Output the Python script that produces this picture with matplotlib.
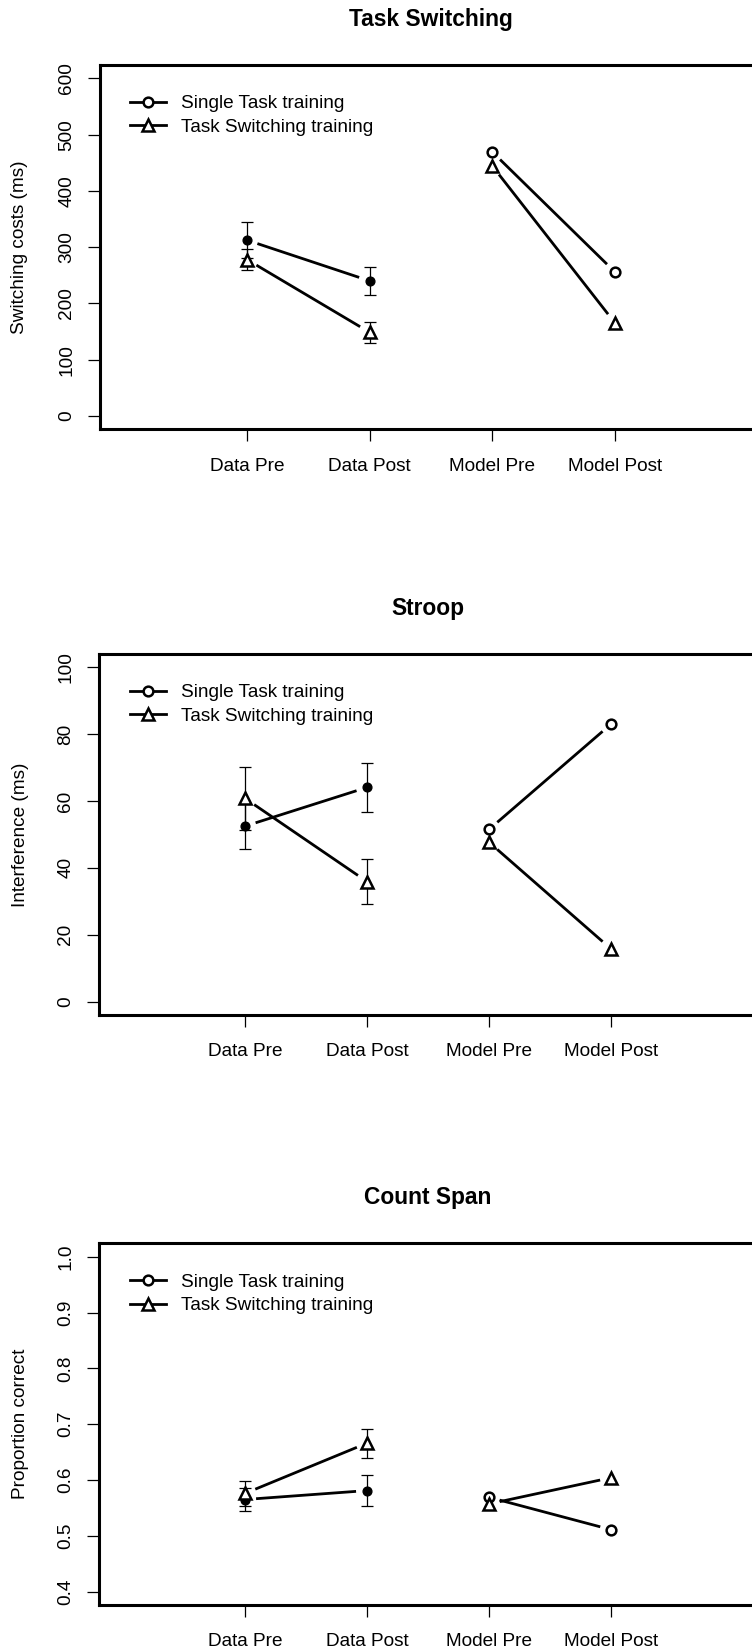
import numpy as np
import matplotlib
matplotlib.use("Agg")
import matplotlib.pyplot as plt
from matplotlib.lines import Line2D

plt.rcParams['font.family'] = ['Liberation Sans', 'DejaVu Sans']

# conditions on the x axis
conditions = ['Data Pre', 'Data Post', 'Model Pre', 'Model Post']
legend_labels = ['Single Task training', 'Task Switching training']

# Task Switching panel (ms)
switch_single = [312.5, 240.0, 469.5, 256.0]
switch_single_se = [31.5, 25.0]
switch_ts = [278.0, 148.5, 444.6, 165.4]
switch_ts_se = [18.3, 18.7]

# Stroop panel (ms)
stroop_single = [52.5, 64.1, 51.5, 83.0]
stroop_single_se = [6.7, 7.35]
stroop_ts = [60.8, 35.9, 47.7, 15.8]
stroop_ts_se = [9.4, 6.8]

# Count Span panel (proportion)
span_single = [0.565, 0.581, 0.569, 0.511]
span_single_se = [0.0204, 0.028]
span_ts = [0.576, 0.666, 0.557, 0.604]
span_ts_se = [0.0223, 0.026]

W, H = 752, 1652
fig = plt.figure(figsize=(W / 100, H / 100), dpi=100)

FS = 13.7
LW = 2.0


def gap_line(ax, x, y, gap=11):
    """line between two points with a gap at each end (like R type='b')"""
    p = ax.transData.transform(np.column_stack([x, y]))
    d = p[1] - p[0]
    u = d / np.hypot(*d)
    a = p[0] + u * gap
    b = p[1] - u * gap
    q = ax.transData.inverted().transform(np.array([a, b]))
    ax.plot(q[:, 0], q[:, 1], color='black', lw=LW, solid_capstyle='butt')


def panel(rect_px, title, ylabel, yticks, ylabels, single, single_se, ts, ts_se):
    left, right, top, bottom = rect_px
    ax = fig.add_axes([left / W, 1 - bottom / H, (right - left) / W, (bottom - top) / H])
    lo, hi = yticks[0], yticks[-1]
    pad = (hi - lo) * 0.04
    ax.set_ylim(lo - pad, hi + pad)
    ax.set_xlim(-0.2, 5.2)

    x = np.arange(1, 5)
    # error bars for the data conditions
    ax.errorbar(x[:2], single[:2], yerr=single_se, fmt='none', ecolor='black',
                elinewidth=0.9, capsize=4, capthick=0.9, zorder=2)
    ax.errorbar(x[:2], ts[:2], yerr=ts_se, fmt='none', ecolor='black',
                elinewidth=0.9, capsize=4, capthick=0.9, zorder=2)

    # connecting lines pre -> post
    for series in (single, ts):
        gap_line(ax, x[:2], series[:2])
        gap_line(ax, x[2:], series[2:])

    # markers
    ax.plot(x[:2], single[:2], 'o', color='black', ms=6.3, zorder=4)
    ax.plot(x[2:], single[2:], 'o', mfc='white', mec='black', ms=7, mew=1.8, zorder=4)
    ax.plot(x, ts, '^', mfc='white', mec='black', ms=8.5, mew=1.8, zorder=4)

    ax.set_xticks(x)
    ax.set_xticklabels(conditions, fontsize=FS)
    ax.set_yticks(yticks)
    ax.set_yticklabels(ylabels, fontsize=FS, rotation=90, va='center')
    ax.tick_params(axis='x', length=8.5, width=0.9, pad=12)
    ax.tick_params(axis='y', length=8.5, width=0.9, pad=9)
    for s in ax.spines.values():
        s.set_linewidth(2.2)

    ax.set_title(title, fontsize=16.4, fontweight='bold', pad=28)
    ax.set_ylabel(ylabel, fontsize=FS, va='center')
    ax.yaxis.set_label_coords((20 - left) / (right - left), 0.5)

    handles = [
        Line2D([], [], color='black', lw=LW, marker='o', mfc='white', mec='black', ms=7, mew=1.8),
        Line2D([], [], color='black', lw=LW, marker='^', mfc='white', mec='black', ms=8.5, mew=1.8),
    ]
    ax.legend(handles, legend_labels, loc='upper left', frameon=False, fontsize=FS,
              borderpad=0, borderaxespad=0, handlelength=1.9, handletextpad=0.8,
              labelspacing=0.33,
              bbox_to_anchor=((129.5 - left) / (right - left), 1 - 30 / (bottom - top)))
    return ax


panel((99.8, 762, 65, 429.3), 'Task Switching', 'Switching costs (ms)',
      [0, 100, 200, 300, 400, 500, 600], ['0', '100', '200', '300', '400', '500', '600'],
      switch_single, switch_single_se, switch_ts, switch_ts_se)

panel((98.8, 757.2, 654, 1015), 'Stroop', 'Interference (ms)',
      [0, 20, 40, 60, 80, 100], ['0', '20', '40', '60', '80', '100'],
      stroop_single, stroop_single_se, stroop_ts, stroop_ts_se)

panel((98.8, 757.2, 1243.3, 1605), 'Count Span', 'Proportion correct',
      [0.4, 0.5, 0.6, 0.7, 0.8, 0.9, 1.0], ['0.4', '0.5', '0.6', '0.7', '0.8', '0.9', '1.0'],
      span_single, span_single_se, span_ts, span_ts_se)

fig.savefig('out.png', dpi=100)
